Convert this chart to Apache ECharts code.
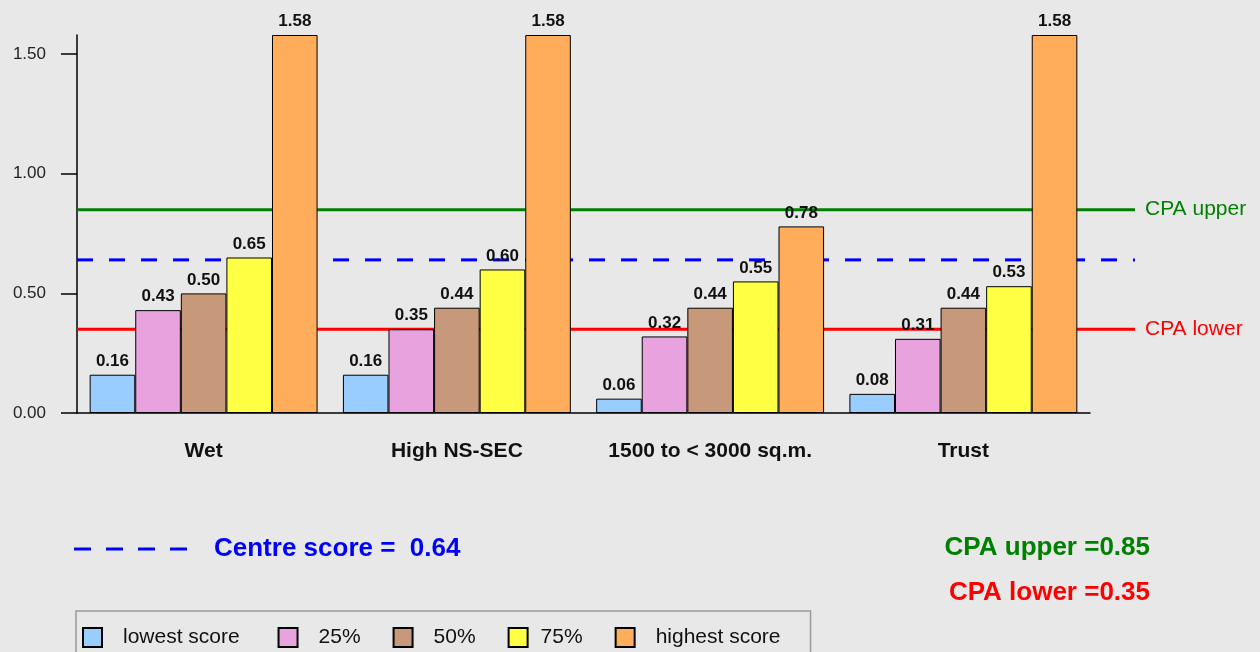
<!DOCTYPE html>
<html>
<head>
<meta charset="utf-8">
<title>Scores by group</title>
<script src="https://cdn.jsdelivr.net/npm/echarts@6/dist/echarts.min.js"></script>
<style>
  html, body { margin: 0; padding: 0; background: #e8e8e8; }
  #main { width: 1260px; height: 652px; }
</style>
</head>
<body>
<div id="main"></div>
<script>
// categories on the x axis
const categories = ['Wet', 'High NS-SEC', '1500 to < 3000 sq.m.', 'Trust']
// one array per legend entry
const seriesNames = ['lowest score', '25%', '50%', '75%', 'highest score']
const lowestScore = [0.16, 0.16, 0.06, 0.08]
const pct25 = [0.43, 0.35, 0.32, 0.31]
const pct50 = [0.50, 0.44, 0.44, 0.44]
const pct75 = [0.65, 0.60, 0.55, 0.53]
const highestScore = [1.58, 1.58, 0.78, 1.58]
// reference lines
const centreScore = 0.64
const cpaUpper = 0.85
const cpaLower = 0.35
// y axis ticks
const yTicks = [0, 0.5, 1.0, 1.5]
const yMax = 1.58

const barColors = ['#99ccff', '#e8a3df', '#c8987b', '#ffff44', '#ffad5b']
const barValues = [lowestScore, pct25, pct50, pct75, highestScore]
const FONT = '"Liberation Sans", Arial, sans-serif'

const chart = echarts.init(document.getElementById('main'))

// bars live in grid 0
const barSeries = seriesNames.map((name, i) => {
  return {
    name: name,
    type: 'bar',
    xAxisIndex: 0,
    yAxisIndex: 0,
    z: 3,
    barGap: '0%',
    barCategoryGap: '10%',
    itemStyle: { color: barColors[i], borderColor: '#000', borderWidth: 1 },
    label: {
      show: true,
      position: 'top',
      distance: 5,
      fontFamily: FONT,
      fontWeight: 'bold',
      fontSize: 17,
      color: '#111',
      formatter: p => p.value.toFixed(2)
    },
    data: barValues[i]
  }
})

// the horizontal lines run a bit further right, so they sit in grid 1
function refLine (name, value, color, dashed) {
  return {
    name: name,
    type: 'line',
    xAxisIndex: 1,
    yAxisIndex: 1,
    z: 1,
    symbol: 'none',
    silent: true,
    lineStyle: { color: color, width: 3, type: dashed ? [16, 16] : 'solid' },
    endLabel: {
      show: name !== '',
      formatter: name,
      color: color,
      fontFamily: FONT,
      fontSize: 21,
      distance: 10
    },
    data: [[0, value], [1, value]]
  }
}

// legend spacing is a little uneven in the original
const legendData = seriesNames.map(name => {
  const ts = { padding: [0, 0, 0, 16] }
  if (name === '75%') ts.padding = [0, 0, 0, 8]
  return { name: name, textStyle: ts }
})

const option = {
  backgroundColor: '#e8e8e8',
  animation: false,
  textStyle: { fontFamily: FONT },
  grid: [
    { left: 77, right: 170, top: 35, bottom: 239 },
    { left: 77, right: 125, top: 35, bottom: 239 }
  ],
  xAxis: [
    {
      type: 'category',
      gridIndex: 0,
      data: categories,
      axisLine: { lineStyle: { color: '#000', width: 1.5 } },
      axisTick: { show: false },
      axisLabel: { interval: 0, margin: 28, fontSize: 21, fontWeight: 'bold', color: '#111', fontFamily: FONT }
    },
    { type: 'value', gridIndex: 1, min: 0, max: 1, show: false }
  ],
  yAxis: [
    {
      type: 'value',
      gridIndex: 0,
      min: 0,
      max: yMax,
      splitLine: { show: false },
      axisLine: { show: true, lineStyle: { color: '#000', width: 1.5 } },
      axisTick: { show: true, length: 16, customValues: yTicks, lineStyle: { color: '#000', width: 1.5 } },
      axisLabel: {
        customValues: yTicks,
        margin: 31,
        fontSize: 17,
        color: '#222',
        fontFamily: FONT,
        formatter: v => v.toFixed(2)
      }
    },
    { type: 'value', gridIndex: 1, min: 0, max: yMax, show: false }
  ],
  legend: {
    data: legendData,
    left: 76,
    top: 611,
    orient: 'horizontal',
    icon: 'rect',
    itemWidth: 19,
    itemHeight: 19,
    itemGap: 32,
    padding: [16, 30, 16, 6],
    borderColor: '#999',
    borderWidth: 1.5,
    // a trailing space widens the first entry like in the original
    formatter: name => name === 'lowest score' ? name + ' ' : name,
    textStyle: { fontSize: 21, color: '#111', fontFamily: FONT }
  },
  graphic: [
    {
      type: 'line',
      shape: { x1: 74, y1: 549, x2: 187, y2: 549 },
      style: { stroke: '#0000ff', lineWidth: 3, lineDash: [17, 15] }
    },
    {
      type: 'text',
      left: 214,
      top: 536,
      style: {
        text: 'Centre score =  ' + centreScore.toFixed(2),
        fill: '#0000ff',
        font: 'bold 26px ' + FONT
      }
    },
    {
      type: 'text',
      right: 110,
      top: 535,
      style: {
        text: 'CPA upper =' + cpaUpper.toFixed(2),
        fill: '#008000',
        font: 'bold 26px ' + FONT
      }
    },
    {
      type: 'text',
      right: 110,
      top: 580,
      style: {
        text: 'CPA lower =' + cpaLower.toFixed(2),
        fill: '#ff0000',
        font: 'bold 26px ' + FONT
      }
    }
  ],
  series: [
    refLine('CPA upper', cpaUpper, '#008000', false),
    refLine('', centreScore, '#0000ff', true),
    refLine('CPA lower', cpaLower, '#ff0000', false)
  ].concat(barSeries)
}

chart.setOption(option)
</script>
</body>
</html>
